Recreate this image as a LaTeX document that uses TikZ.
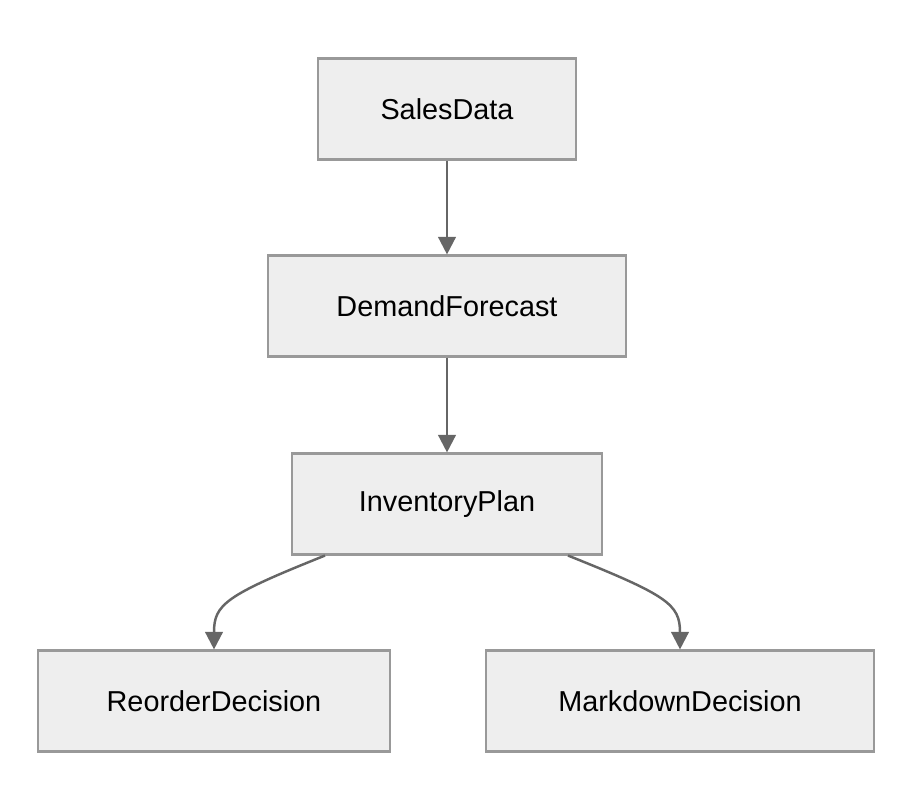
\documentclass[tikz,border=0pt]{standalone}
\usepackage{fontspec}
\setmainfont{Liberation Sans}
\usetikzlibrary{arrows.meta}
\definecolor{boxfill}{HTML}{EEEEEE}
\definecolor{boxline}{HTML}{999999}
\definecolor{arrline}{HTML}{666666}
\tikzset{
  box/.style={draw=boxline,fill=boxfill,line width=0.6pt,minimum height=1.01cm,
    inner sep=0pt,font=\fontsize{8.2}{10}\selectfont},
  arr/.style={draw=arrline,line width=0.7pt,-{Triangle[length=5pt,width=5pt]}}
}
\begin{document}
\begin{tikzpicture}
\useasboundingbox (0,0) rectangle (9.12,-8.12);
% Boxes
\node[box,minimum width=2.58cm] (sales) at (4.47,-1.09) {SalesData};
\node[box,minimum width=3.58cm] (demand) at (4.47,-3.06) {DemandForecast};
\node[box,minimum width=3.10cm] (inv) at (4.47,-5.04) {InventoryPlan};
\node[box,minimum width=3.52cm] (reorder) at (2.14,-7.01) {ReorderDecision};
\node[box,minimum width=3.88cm] (markdown) at (6.80,-7.01) {MarkdownDecision};
% Arrows
\draw[arr] (sales) -- (demand);
\draw[arr] (demand) -- (inv);
\draw[arr] ([xshift=-1.22cm]inv.south) .. controls +(-1.0,-0.4) and +(0,0.45) .. (reorder.north);
\draw[arr] ([xshift=1.21cm]inv.south) .. controls +(1.0,-0.4) and +(0,0.45) .. (markdown.north);
\end{tikzpicture}
\end{document}
